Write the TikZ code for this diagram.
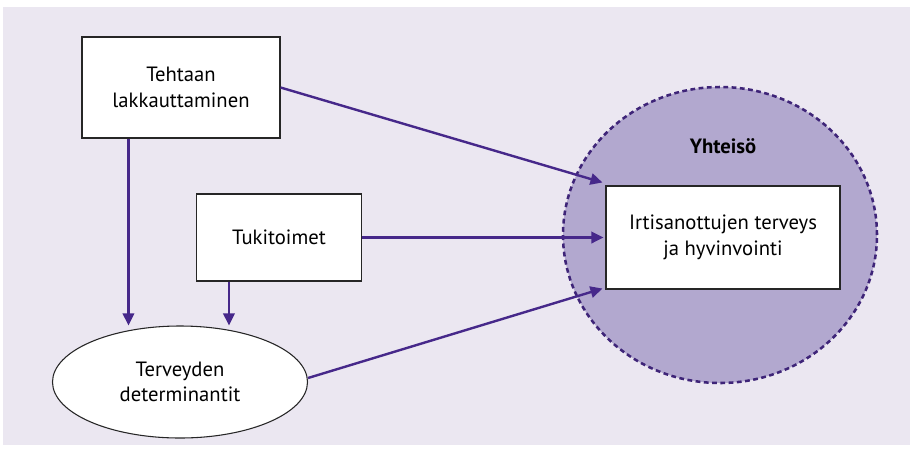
\documentclass[tikz,border=0pt]{standalone}
\usepackage{fontspec}
\setmainfont{PT Sans}
\usetikzlibrary{shapes.geometric,arrows.meta,positioning,calc}
\definecolor{bgpurple}{HTML}{EBE7F1}
\definecolor{ringpurple}{HTML}{B2A8CF}
\definecolor{arrowpurple}{HTML}{46288A}
\definecolor{dashpurple}{HTML}{3E2478}

\begin{document}
\begin{tikzpicture}[
x=0.75pt, y=-0.75pt,
textfont/.style={font=\fontsize{15.5}{19}\selectfont},
box/.style={
	draw=black!85, fill=white, line width=0.8pt,
	align=center, inner sep=0pt, textfont
},
oval/.style={box, ellipse},
ring/.style={
	ellipse, fill=ringpurple, draw=dashpurple,
	line width=1.9pt, dash pattern=on 3.6pt off 2.6pt
},
link/.style={
	draw=arrowpurple, line width=1.8pt,
	-{Triangle[length=9pt,width=8.5pt]}
}
]
\useasboundingbox (0,0) rectangle (910,455);
\fill[bgpurple] (3,7) rectangle (910,445);

% the community and its inner box
\node[ring, minimum width=235.5pt, minimum height=222pt] (community) at (720,235) {};
\node[box, minimum width=175.5pt, minimum height=77.25pt] (health) at (723,237.5)
	{Irtisanottujen terveys\\ja hyvinvointi};
\node[font={\fontsize{15.5}{19}\selectfont\bfseries}, above=20pt of health] (yhteiso) {Yhteisö};

% causes on the left
\node[box, minimum width=148.5pt, minimum height=75.75pt] (closure) at (181,87.5)
	{Tehtaan\\lakkauttaminen};
\node[box, minimum width=123.75pt, minimum height=65.25pt] (support) at (279,237.5)
	{Tukitoimet};
\node[oval, minimum width=191.25pt, minimum height=84pt] (determ) at (180,382)
	{Terveyden\\determinantit};

% arrows
\draw[link] (closure.east) -- ($(health.north west)+(-3,-3)$);
\draw[link] (support.east) -- ($(health.west)+(-2,0)$);
\draw[link] ($(determ.east)+(0,-4)$) -- ($(health.south west)+(-3,-1)$);
\draw[link] ($(closure.south west)+(47,0)$) coordinate (c1) -- (c1 |- determ.north);
\draw[link] ($(support.south west)+(33,0)$) coordinate (c2) -- (c2 |- determ.north);
\end{tikzpicture}
\end{document}
